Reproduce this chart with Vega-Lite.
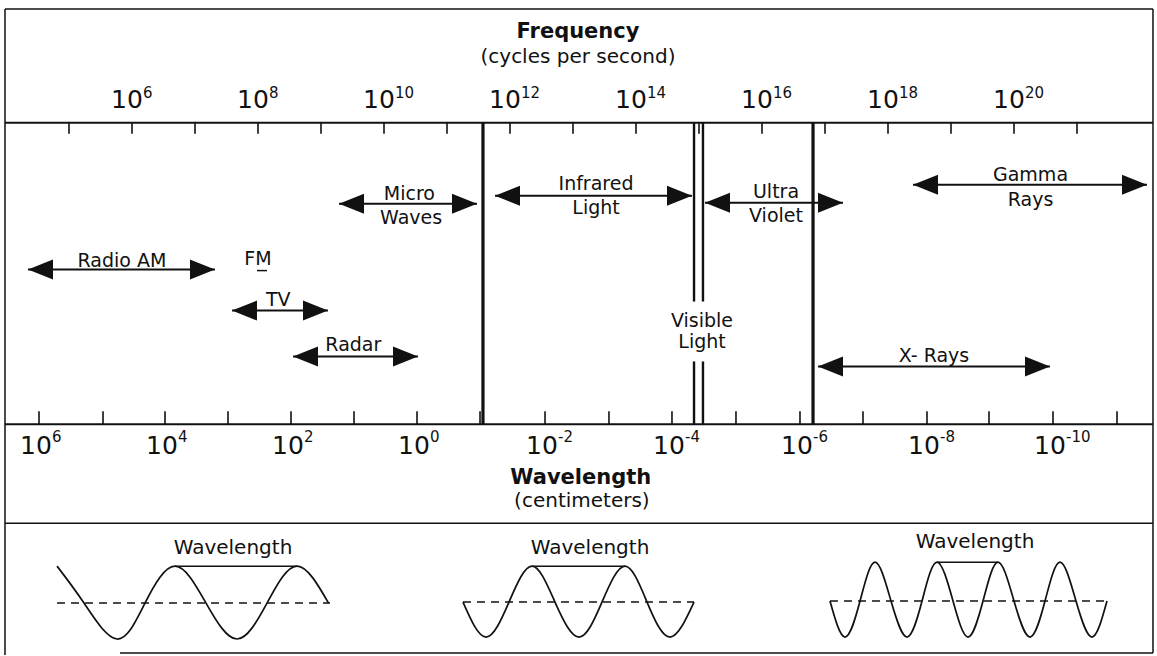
{
  "$schema": "https://vega.github.io/schema/vega-lite/v6.json",
  "width": 1157,
  "height": 656,
  "autosize": {"type": "fit", "contains": "padding"},
  "padding": 0,
  "background": "white",
  "config": {"view": {"stroke": null}, "text": {"font": "DejaVu Sans", "color": "#111111"}},
  "datasets": {
    "rules": [
      {"k": "frame", "x": 3.984, "x2": 22.206, "y": 9, "y2": 9},
      {"k": "frame", "x": 3.984, "x2": 3.984, "y": 9, "y2": 656},
      {"k": "frame", "x": 22.206, "x2": 22.206, "y": 9, "y2": 654},
      {"k": "frame", "x": 3.984, "x2": 22.206, "y": 524, "y2": 524},
      {"k": "frame", "x": 5.81, "x2": 22.206, "y": 654, "y2": 654},
      {"k": "axis", "x": 3.984, "x2": 22.206, "y": 123, "y2": 123},
      {"k": "axis", "x": 3.984, "x2": 22.206, "y": 425, "y2": 425},
      {"k": "band", "x": 11.571, "x2": 11.571, "y": 123, "y2": 425},
      {"k": "band", "x": 16.81, "x2": 16.81, "y": 123, "y2": 425},
      {"k": "visible", "x": 14.921, "x2": 14.921, "y": 123, "y2": 302},
      {"k": "visible", "x": 14.921, "x2": 14.921, "y": 362, "y2": 425},
      {"k": "visible", "x": 15.063, "x2": 15.063, "y": 123, "y2": 302},
      {"k": "visible", "x": 15.063, "x2": 15.063, "y": 362, "y2": 425},
      {"k": "fm", "x": 7.984, "x2": 8.143, "y": 271, "y2": 271},
      {"k": "crest", "x": 6.683, "x2": 8.619, "y": 567, "y2": 567},
      {"k": "crest", "x": 12.349, "x2": 13.825, "y": 567, "y2": 567},
      {"k": "crest", "x": 18.778, "x2": 19.746, "y": 563, "y2": 563},
      {"k": "dash", "x": 4.81, "x2": 9.143, "y": 604, "y2": 604},
      {"k": "dash", "x": 11.254, "x2": 14.921, "y": 603, "y2": 603},
      {"k": "dash", "x": 17.079, "x2": 21.476, "y": 602, "y2": 602},
      {"k": "tick", "x": 5, "x2": 5, "y": 123, "y2": 134},
      {"k": "tick", "x": 6, "x2": 6, "y": 123, "y2": 134},
      {"k": "tick", "x": 7, "x2": 7, "y": 123, "y2": 134},
      {"k": "tick", "x": 8, "x2": 8, "y": 123, "y2": 134},
      {"k": "tick", "x": 9, "x2": 9, "y": 123, "y2": 134},
      {"k": "tick", "x": 10, "x2": 10, "y": 123, "y2": 134},
      {"k": "tick", "x": 11, "x2": 11, "y": 123, "y2": 134},
      {"k": "tick", "x": 12, "x2": 12, "y": 123, "y2": 134},
      {"k": "tick", "x": 13, "x2": 13, "y": 123, "y2": 134},
      {"k": "tick", "x": 14, "x2": 14, "y": 123, "y2": 134},
      {"k": "tick", "x": 15, "x2": 15, "y": 123, "y2": 134},
      {"k": "tick", "x": 16, "x2": 16, "y": 123, "y2": 134},
      {"k": "tick", "x": 17, "x2": 17, "y": 123, "y2": 134},
      {"k": "tick", "x": 18, "x2": 18, "y": 123, "y2": 134},
      {"k": "tick", "x": 19, "x2": 19, "y": 123, "y2": 134},
      {"k": "tick", "x": 20, "x2": 20, "y": 123, "y2": 134},
      {"k": "tick", "x": 21, "x2": 21, "y": 123, "y2": 134},
      {"k": "tick", "x": 4.524, "x2": 4.524, "y": 412, "y2": 425},
      {"k": "tick", "x": 5.54, "x2": 5.54, "y": 412, "y2": 425},
      {"k": "tick", "x": 6.524, "x2": 6.524, "y": 412, "y2": 425},
      {"k": "tick", "x": 7.524, "x2": 7.524, "y": 412, "y2": 425},
      {"k": "tick", "x": 8.524, "x2": 8.524, "y": 412, "y2": 425},
      {"k": "tick", "x": 9.524, "x2": 9.524, "y": 412, "y2": 425},
      {"k": "tick", "x": 10.524, "x2": 10.524, "y": 412, "y2": 425},
      {"k": "tick", "x": 11.524, "x2": 11.524, "y": 412, "y2": 425},
      {"k": "tick", "x": 12.556, "x2": 12.556, "y": 412, "y2": 425},
      {"k": "tick", "x": 13.571, "x2": 13.571, "y": 412, "y2": 425},
      {"k": "tick", "x": 14.571, "x2": 14.571, "y": 412, "y2": 425},
      {"k": "tick", "x": 15.587, "x2": 15.587, "y": 412, "y2": 425},
      {"k": "tick", "x": 16.603, "x2": 16.603, "y": 412, "y2": 425},
      {"k": "tick", "x": 17.603, "x2": 17.603, "y": 412, "y2": 425},
      {"k": "tick", "x": 18.619, "x2": 18.619, "y": 412, "y2": 425},
      {"k": "tick", "x": 19.603, "x2": 19.603, "y": 412, "y2": 425},
      {"k": "tick", "x": 20.619, "x2": 20.619, "y": 412, "y2": 425},
      {"k": "tick", "x": 21.635, "x2": 21.635, "y": 412, "y2": 425}
    ],
    "arrows": [
      {"name": "Radio AM", "x": 4.349, "x2": 7.317, "y": 270},
      {"name": "TV", "x": 7.587, "x2": 9.111, "y": 311},
      {"name": "Radar", "x": 8.556, "x2": 10.54, "y": 357},
      {"name": "Micro Waves", "x": 9.286, "x2": 11.476, "y": 204},
      {"name": "Infrared Light", "x": 11.762, "x2": 14.889, "y": 196},
      {"name": "Ultra Violet", "x": 15.095, "x2": 17.286, "y": 203},
      {"name": "Gamma Rays", "x": 18.397, "x2": 22.111, "y": 185},
      {"name": "X-Rays", "x": 16.889, "x2": 20.571, "y": 367}
    ],
    "waves": [
      {"w": 1, "x": 4.81, "y": 567}, {"w": 1, "x": 5.238, "y": 604}, {"w": 1, "x": 5.762, "y": 640},
      {"w": 1, "x": 6.206, "y": 604}, {"w": 1, "x": 6.683, "y": 567}, {"w": 1, "x": 7.175, "y": 604},
      {"w": 1, "x": 7.667, "y": 640}, {"w": 1, "x": 8.143, "y": 604}, {"w": 1, "x": 8.619, "y": 567},
      {"w": 1, "x": 9.12, "y": 604},
      {"w": 2, "x": 11.254, "y": 603}, {"w": 2, "x": 11.619, "y": 638}, {"w": 2, "x": 11.984, "y": 603},
      {"w": 2, "x": 12.349, "y": 567}, {"w": 2, "x": 12.714, "y": 603}, {"w": 2, "x": 13.095, "y": 638},
      {"w": 2, "x": 13.46, "y": 603}, {"w": 2, "x": 13.825, "y": 567}, {"w": 2, "x": 14.175, "y": 603},
      {"w": 2, "x": 14.54, "y": 638}, {"w": 2, "x": 14.921, "y": 603},
      {"w": 3, "x": 17.079, "y": 602}, {"w": 3, "x": 17.317, "y": 638}, {"w": 3, "x": 17.556, "y": 602},
      {"w": 3, "x": 17.794, "y": 563}, {"w": 3, "x": 18.048, "y": 602}, {"w": 3, "x": 18.302, "y": 638},
      {"w": 3, "x": 18.54, "y": 602}, {"w": 3, "x": 18.778, "y": 563}, {"w": 3, "x": 19.032, "y": 602},
      {"w": 3, "x": 19.27, "y": 638}, {"w": 3, "x": 19.508, "y": 602}, {"w": 3, "x": 19.746, "y": 563},
      {"w": 3, "x": 20.0, "y": 602}, {"w": 3, "x": 20.254, "y": 638}, {"w": 3, "x": 20.492, "y": 602},
      {"w": 3, "x": 20.73, "y": 563}, {"w": 3, "x": 20.984, "y": 602}, {"w": 3, "x": 21.238, "y": 638},
      {"w": 3, "x": 21.476, "y": 602}
    ],
    "texts": [
      {"k": "bold", "t": "Frequency", "x": 13.079, "y": 38},
      {"k": "sub", "t": "(cycles per second)", "x": 13.079, "y": 63},
      {"k": "bold", "t": "Wavelength", "x": 13.124, "y": 485},
      {"k": "sub", "t": "(centimeters)", "x": 13.141, "y": 508},
      {"k": "lab", "t": "Radio AM", "x": 5.841, "y": 267},
      {"k": "lab", "t": "FM", "x": 8.0, "y": 265},
      {"k": "lab", "t": "TV", "x": 8.322, "y": 306},
      {"k": "lab", "t": "Radar", "x": 9.513, "y": 352},
      {"k": "lab", "t": "Micro", "x": 10.402, "y": 200},
      {"k": "lab", "t": "Waves", "x": 10.43, "y": 224},
      {"k": "lab", "t": "Infrared", "x": 13.365, "y": 190},
      {"k": "lab", "t": "Light", "x": 13.365, "y": 214},
      {"k": "lab", "t": "Ultra", "x": 16.222, "y": 198},
      {"k": "lab", "t": "Violet", "x": 16.222, "y": 222},
      {"k": "lab", "t": "Gamma", "x": 20.262, "y": 181},
      {"k": "lab", "t": "Rays", "x": 20.262, "y": 206},
      {"k": "lab", "t": "X- Rays", "x": 18.73, "y": 363},
      {"k": "lab", "t": "Visible", "x": 15.048, "y": 327},
      {"k": "lab", "t": "Light", "x": 15.048, "y": 349},
      {"k": "wl", "t": "Wavelength", "x": 7.603, "y": 555},
      {"k": "wl", "t": "Wavelength", "x": 13.27, "y": 555},
      {"k": "wl", "t": "Wavelength", "x": 19.381, "y": 549}
    ],
    "ticklabels": [
      {"axis": "freq", "x": 6, "y": 108, "sup": "6"},
      {"axis": "freq", "x": 8, "y": 108, "sup": "8"},
      {"axis": "freq", "x": 10, "y": 108, "sup": "10"},
      {"axis": "freq", "x": 12, "y": 108, "sup": "12"},
      {"axis": "freq", "x": 14, "y": 108, "sup": "14"},
      {"axis": "freq", "x": 16, "y": 108, "sup": "16"},
      {"axis": "freq", "x": 18, "y": 108, "sup": "18"},
      {"axis": "freq", "x": 20, "y": 108, "sup": "20"},
      {"axis": "wave", "x": 4.524, "y": 455, "sup": "6"},
      {"axis": "wave", "x": 6.524, "y": 455, "sup": "4"},
      {"axis": "wave", "x": 8.524, "y": 455, "sup": "2"},
      {"axis": "wave", "x": 10.524, "y": 455, "sup": "0"},
      {"axis": "wave", "x": 12.556, "y": 455, "sup": "-2"},
      {"axis": "wave", "x": 14.571, "y": 455, "sup": "-4"},
      {"axis": "wave", "x": 16.603, "y": 455, "sup": "-6"},
      {"axis": "wave", "x": 18.619, "y": 455, "sup": "-8"},
      {"axis": "wave", "x": 20.619, "y": 455, "sup": "-10"}
    ]
  },
  "encoding": {
    "x": {"field": "x", "type": "quantitative", "scale": {"domain": [3.9048, 22.2698], "nice": false, "zero": false}, "axis": null},
    "y": {"field": "y", "type": "quantitative", "scale": {"domain": [0, 656], "reverse": true, "nice": false, "zero": false}, "axis": null}
  },
  "layer": [
    {
      "data": {"name": "rules"},
      "transform": [{"filter": "datum.k === 'frame' || datum.k === 'crest' || datum.k === 'fm'"}],
      "mark": {"type": "rule", "color": "#111111", "strokeWidth": 1.5},
      "encoding": {"x2": {"field": "x2"}, "y2": {"field": "y2"}}
    },
    {
      "data": {"name": "rules"},
      "transform": [{"filter": "datum.k === 'axis'"}],
      "mark": {"type": "rule", "color": "#111111", "strokeWidth": 2},
      "encoding": {"x2": {"field": "x2"}, "y2": {"field": "y2"}}
    },
    {
      "data": {"name": "rules"},
      "transform": [{"filter": "datum.k === 'tick'"}],
      "mark": {"type": "rule", "color": "#111111", "strokeWidth": 1.6},
      "encoding": {"x2": {"field": "x2"}, "y2": {"field": "y2"}}
    },
    {
      "data": {"name": "rules"},
      "transform": [{"filter": "datum.k === 'band'"}],
      "mark": {"type": "rule", "color": "#111111", "strokeWidth": 3.2},
      "encoding": {"x2": {"field": "x2"}, "y2": {"field": "y2"}}
    },
    {
      "data": {"name": "rules"},
      "transform": [{"filter": "datum.k === 'visible'"}],
      "mark": {"type": "rule", "color": "#111111", "strokeWidth": 2.4},
      "encoding": {"x2": {"field": "x2"}, "y2": {"field": "y2"}}
    },
    {
      "data": {"name": "rules"},
      "transform": [{"filter": "datum.k === 'dash'"}],
      "mark": {"type": "rule", "color": "#111111", "strokeWidth": 1.5, "strokeDash": [8, 6]},
      "encoding": {"x2": {"field": "x2"}, "y2": {"field": "y2"}}
    },
    {
      "data": {"name": "waves"},
      "mark": {"type": "line", "color": "#111111", "strokeWidth": 1.7, "interpolate": "natural"},
      "encoding": {"detail": {"field": "w", "type": "nominal"}}
    },
    {
      "data": {"name": "arrows"},
      "mark": {"type": "rule", "color": "#111111", "strokeWidth": 2},
      "encoding": {"x2": {"field": "x2"}}
    },
    {
      "data": {"name": "arrows"},
      "mark": {"type": "point", "shape": "M-1,0L1,-0.8L1,0.8Z", "size": 625, "filled": true, "fill": "#111111", "strokeWidth": 0, "opacity": 1, "xOffset": 12.5}
    },
    {
      "data": {"name": "arrows"},
      "mark": {"type": "point", "shape": "M1,0L-1,-0.8L-1,0.8Z", "size": 625, "filled": true, "fill": "#111111", "strokeWidth": 0, "opacity": 1, "xOffset": -12.5},
      "encoding": {
        "x": {"field": "x2", "type": "quantitative", "scale": {"domain": [3.9048, 22.2698], "nice": false, "zero": false}, "axis": null}
      }
    },
    {
      "data": {"name": "texts"},
      "transform": [{"filter": "datum.k === 'bold'"}],
      "mark": {"type": "text", "fontSize": 21, "fontWeight": "bold", "align": "center", "baseline": "alphabetic"},
      "encoding": {"text": {"field": "t"}}
    },
    {
      "data": {"name": "texts"},
      "transform": [{"filter": "datum.k === 'sub'"}],
      "mark": {"type": "text", "fontSize": 20, "align": "center", "baseline": "alphabetic"},
      "encoding": {"text": {"field": "t"}}
    },
    {
      "data": {"name": "texts"},
      "transform": [{"filter": "datum.k === 'lab'"}],
      "mark": {"type": "text", "fontSize": 19, "align": "center", "baseline": "alphabetic"},
      "encoding": {"text": {"field": "t"}}
    },
    {
      "data": {"name": "texts"},
      "transform": [{"filter": "datum.k === 'wl'"}],
      "mark": {"type": "text", "fontSize": 20, "align": "center", "baseline": "alphabetic"},
      "encoding": {"text": {"field": "t"}}
    },
    {
      "data": {"name": "ticklabels"},
      "transform": [{"filter": "datum.axis === 'freq'"}],
      "mark": {"type": "text", "fontSize": 25, "align": "center", "baseline": "alphabetic", "xOffset": -5},
      "encoding": {"text": {"value": "10"}}
    },
    {
      "data": {"name": "ticklabels"},
      "transform": [{"filter": "datum.axis === 'freq'"}],
      "mark": {"type": "text", "fontSize": 15, "align": "left", "baseline": "alphabetic", "xOffset": 11, "yOffset": -10},
      "encoding": {"text": {"field": "sup"}}
    },
    {
      "data": {"name": "ticklabels"},
      "transform": [{"filter": "datum.axis === 'wave'"}],
      "mark": {"type": "text", "fontSize": 25, "align": "center", "baseline": "alphabetic", "xOffset": -3},
      "encoding": {"text": {"value": "10"}}
    },
    {
      "data": {"name": "ticklabels"},
      "transform": [{"filter": "datum.axis === 'wave'"}],
      "mark": {"type": "text", "fontSize": 15, "align": "left", "baseline": "alphabetic", "xOffset": 13, "yOffset": -12},
      "encoding": {"text": {"field": "sup"}}
    }
  ]
}
